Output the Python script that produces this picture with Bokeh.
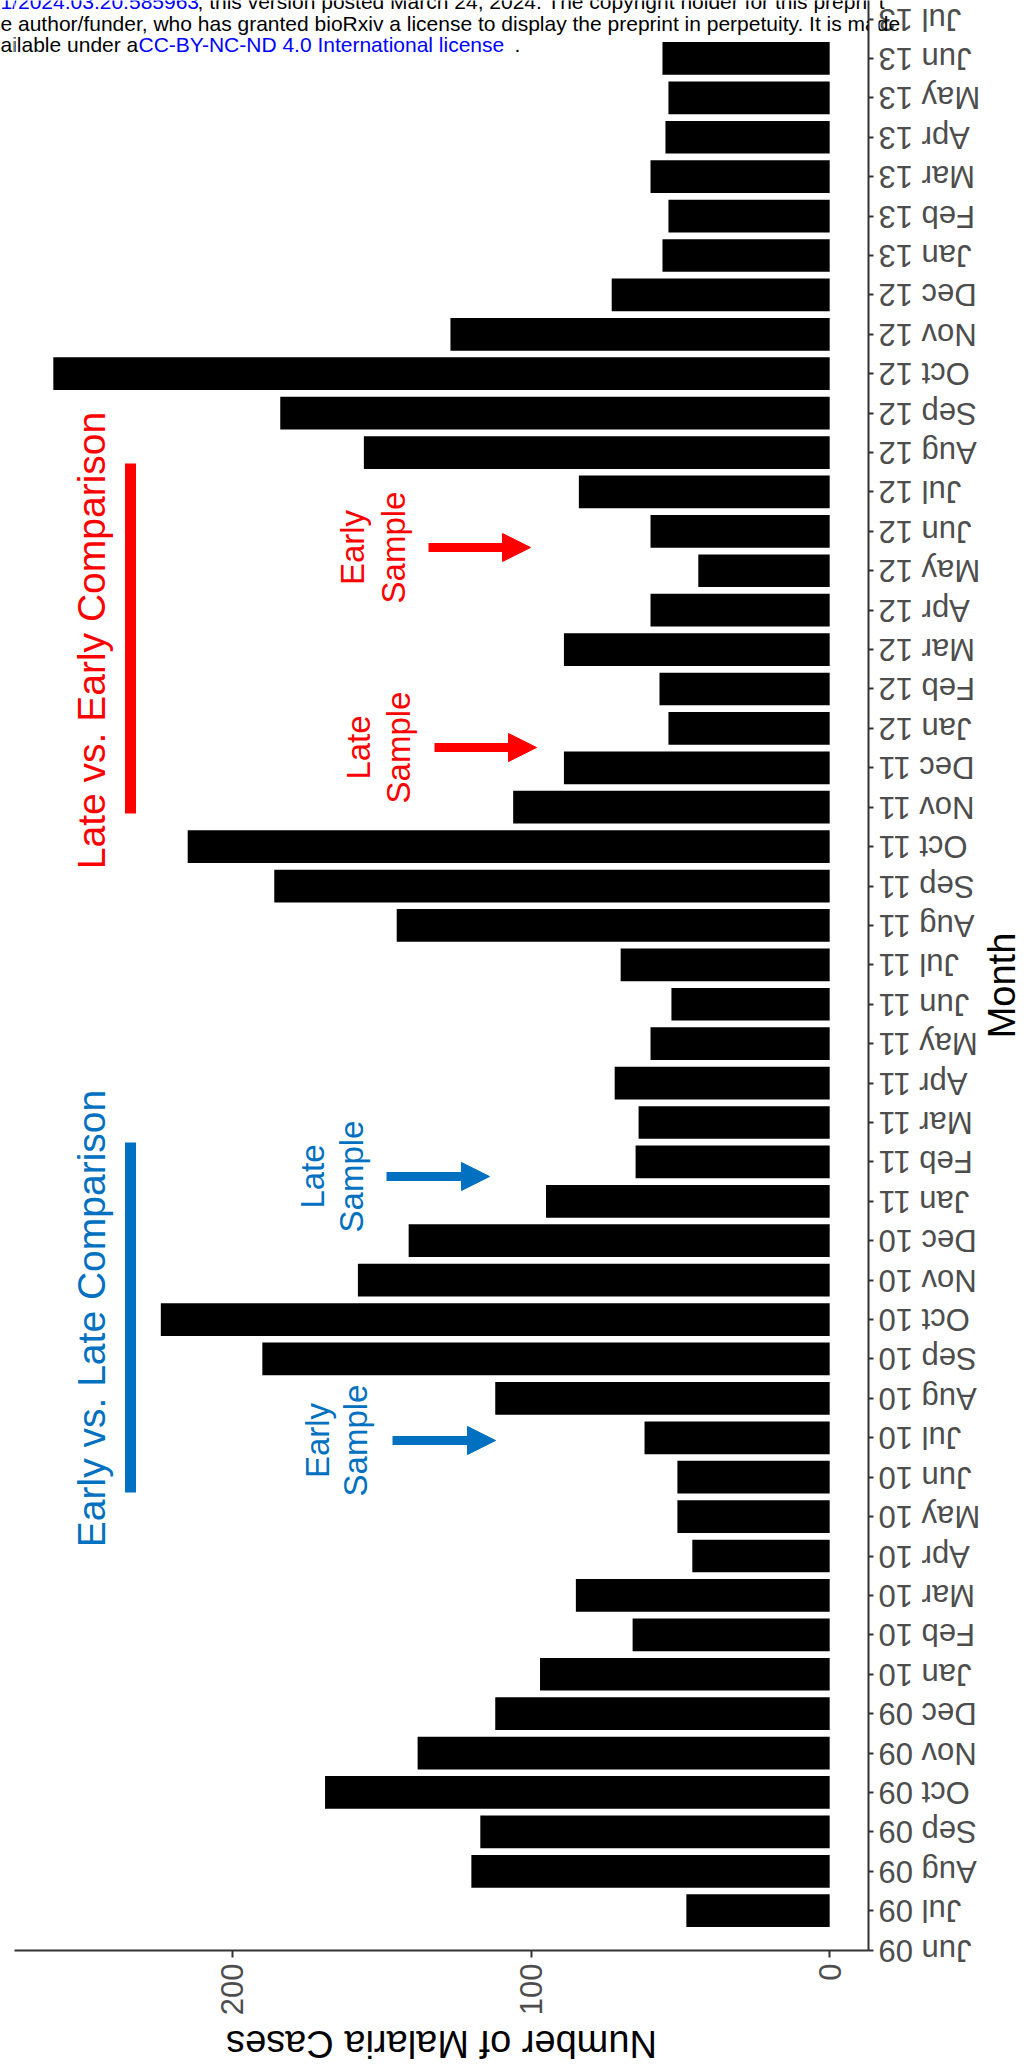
import math
from bokeh.plotting import figure
from bokeh.layouts import row, column
from bokeh.models import Range1d, FixedTicker, Label, Arrow, NormalHead, ColumnDataSource
from bokeh.core.properties import value
from bokeh.embed import file_html
from bokeh.resources import INLINE

# ---------------- data ----------------
MONTH_LABELS = [
    "Jun 09", "Jul 09", "Aug 09", "Sep 09", "Oct 09", "Nov 09", "Dec 09",
    "Jan 10", "Feb 10", "Mar 10", "Apr 10", "May 10", "Jun 10", "Jul 10", "Aug 10", "Sep 10", "Oct 10", "Nov 10", "Dec 10",
    "Jan 11", "Feb 11", "Mar 11", "Apr 11", "May 11", "Jun 11", "Jul 11", "Aug 11", "Sep 11", "Oct 11", "Nov 11", "Dec 11",
    "Jan 12", "Feb 12", "Mar 12", "Apr 12", "May 12", "Jun 12", "Jul 12", "Aug 12", "Sep 12", "Oct 12", "Nov 12", "Dec 12",
    "Jan 13", "Feb 13", "Mar 13", "Apr 13", "May 13", "Jun 13", "Jul 13",
]
BAR_MONTHS = MONTH_LABELS[1:49]
CASES = [
    48, 120, 117, 169, 138, 112,
    97, 66, 85, 46, 51, 51, 62, 112, 190, 224, 158, 141,
    95, 65, 64, 72, 60, 53, 70, 145, 186, 215, 106, 89,
    54, 57, 89, 60, 44, 60, 84, 156, 184, 260, 127, 73,
    56, 54, 60, 55, 54, 56,
]
VALUE_TICKS = [0, 100, 200]

# ---------------- styling / layout constants ----------------
FONT = "Liberation Sans"
RED = "#FF0000"
BLUE = "#0070C0"
LINK = "#0000FF"
AXIS_COL = "#333333"
TICK_TEXT = "#4D4D4D"

LEFT_W = 14                   # narrow strip left of the plotting frame
FRAME_W, FRAME_H = 854, 1950  # plotting frame of the main figure
RIGHT_BORDER = 10
XS, XE = 273.0, -13.0         # value range (reversed: bars grow to the left)
Y0, Y1 = -0.01, 49.47         # month-index range
PX_PER = FRAME_H / (Y1 - Y0)
BOTTOM_BORDER = 74
STRIP_X0 = LEFT_W + FRAME_W + RIGHT_BORDER      # page x of the right strip
RIGHT_W = 1029 - STRIP_X0
PB_H = 2070 - (FRAME_H + BOTTOM_BORDER)
BASE_SHIFT = 0.41             # label anchor correction (em) for alphabetic baseline


def v_at(px):   # value at a page x position (main figure)
    return XS - (px - LEFT_W) * (XS - XE) / FRAME_W


def i_at(py):   # month index at a page y position
    return Y1 - py / PX_PER


idx = {m: i for i, m in enumerate(MONTH_LABELS)}
src = ColumnDataSource(dict(y=[idx[m] for m in BAR_MONTHS], right=CASES, left=[0] * len(CASES)))
YR = Range1d(Y0, Y1)

# ---------------- main figure ----------------
p = figure(frame_width=FRAME_W, frame_height=FRAME_H, output_backend="svg", toolbar_location=None,
           x_range=Range1d(XS, XE), y_range=YR,
           y_axis_location="right", min_border_left=0, min_border_right=RIGHT_BORDER,
           min_border_top=0, min_border_bottom=BOTTOM_BORDER)
p.outline_line_color = None
p.xgrid.visible = False
p.ygrid.visible = False

p.hbar(y="y", left="left", right="right", height=0.83, source=src,
       fill_color="black", line_color=None)

for ax in (p.xaxis[0], p.yaxis[0]):
    ax.axis_line_color = AXIS_COL
    ax.axis_line_width = 2
    ax.major_tick_line_color = AXIS_COL
    ax.major_tick_line_width = 2
    ax.major_tick_in = 0
    ax.minor_tick_line_color = None
    ax.major_label_text_font = FONT

p.xaxis.ticker = FixedTicker(ticks=VALUE_TICKS)
p.xaxis.major_tick_out = 7
p.xaxis.major_label_standoff = 6
p.xaxis.major_label_orientation = math.pi / 2
p.xaxis.major_label_text_color = TICK_TEXT
p.xaxis.major_label_text_font_size = "31px"

# month ticks on the right axis; the upside-down labels are drawn in the strip at the right
p.yaxis.ticker = FixedTicker(ticks=list(range(len(MONTH_LABELS))))
p.yaxis.major_tick_out = 5
p.yaxis.major_label_standoff = 0
p.yaxis.major_label_text_font_size = "1px"
p.yaxis.major_label_text_color = None


def rot_label(fig, x_px, y, text, size, col, x0=None):
    """text reading bottom-to-top; x_px is the wanted baseline (page px)."""
    ax = x_px - BASE_SHIFT * size
    xx = v_at(ax) if x0 is None else ax - x0
    fig.add_layout(Label(x=xx, y=y, text=text, angle=math.pi / 2,
                         text_align="center", text_baseline="alphabetic",
                         text_font=FONT, text_font_size=f"{size}px", text_color=col))


# comparison annotations
COMPARISONS = [
    # title, color, title centre y, bar top y, bar bottom y   (page px)
    ("Late vs. Early Comparison", RED, 640, 463, 813),
    ("Early vs. Late Comparison", BLUE, 1318, 1142, 1492),
]
for title, col, ty, y0, y1 in COMPARISONS:
    rot_label(p, 107, i_at(ty), title, 39, col)
    p.segment(x0=[v_at(130)], y0=[i_at(y0)], x1=[v_at(130)], y1=[i_at(y1)],
              line_color=col, line_width=11, line_cap="butt")

SAMPLES = [
    # word, color, centre y, word baseline x, "Sample" baseline x, arrow tail x, arrow tip x (page px)
    ("Early", RED, 547, 366, 407, 428, 530),
    ("Late", RED, 747, 372, 412, 434, 536),
    ("Late", BLUE, 1176, 326, 365, 386, 489),
    ("Early", BLUE, 1440, 331, 369, 392, 495),
]
for word, col, yy, xw, xs, ax0, ax1 in SAMPLES:
    rot_label(p, xw, i_at(yy), word, 33, col)
    rot_label(p, xs, i_at(yy), "Sample", 33, col)
    p.add_layout(Arrow(end=NormalHead(size=28, fill_color=col, line_color=col, line_width=1),
                       x_start=v_at(ax0), y_start=i_at(yy), x_end=v_at(ax1), y_end=i_at(yy),
                       line_color=col, line_width=9))

# preprint watermark text at the top (text, colour, page x start, page baseline y)
WM_SIZE = 21
WATERMARK = [
    ("1/2024.03.20.585963", LINK, 0, 10),
    ("; this version posted March 24, 2024. The copyright holder for this preprint", "black", 197, 10),
    ("e author/funder, who has granted bioRxiv a license to display the preprint in perpetuity. It is made", "black", 0, 32),
    ("ailable under a", "black", 0, 53),
    ("CC-BY-NC-ND 4.0 International license", LINK, 138, 53),
    (".", "black", 514, 53),
]


def wm_label(fig, txt, col, x, py):
    fig.add_layout(Label(x=x, y=i_at(py - BASE_SHIFT * WM_SIZE), text=txt, text_align="left",
                         text_baseline="alphabetic", text_font=FONT,
                         text_font_size=f"{WM_SIZE}px", text_color=col))


for txt, col, px, py in WATERMARK:
    wm_label(p, txt, col, v_at(px), py)

# ---------------- left strip (start of the cut-off watermark lines) ----------------
pl = figure(frame_width=LEFT_W, frame_height=FRAME_H, output_backend="svg", toolbar_location=None,
            x_axis_location=None, y_axis_location=None, x_range=Range1d(0, LEFT_W), y_range=YR,
            min_border_left=0, min_border_right=0, min_border_top=0, min_border_bottom=BOTTOM_BORDER)
pl.outline_line_color = None
pl.grid.visible = False
for txt, col, px, py in WATERMARK:
    if px < LEFT_W:
        wm_label(pl, txt, col, px, py)

# ---------------- right strip: month tick labels + axis title ----------------
EXTRA = 40                             # strip frame extends lower so "Jun 09" is not cut
pr = figure(frame_width=RIGHT_W, frame_height=FRAME_H + EXTRA, output_backend="svg",
            toolbar_location=None, x_axis_location=None, y_axis_location=None,
            x_range=Range1d(0, RIGHT_W), y_range=Range1d(Y0 - EXTRA / PX_PER, Y1),
            min_border_left=0, min_border_right=0, min_border_top=0,
            min_border_bottom=BOTTOM_BORDER - EXTRA)
pr.outline_line_color = None
pr.grid.visible = False
pr.text(x=[0] * len(MONTH_LABELS), y=list(range(len(MONTH_LABELS))), text=MONTH_LABELS,
        angle=math.pi, text_align="right", text_baseline="middle",
        text_font=value(FONT), text_font_size="31px", text_color=TICK_TEXT)
rot_label(pr, 1017, i_at(985), "Month", 38, "black", x0=STRIP_X0)
for txt, col, px, py in WATERMARK[1:3]:
    wm_label(pr, txt, col, px - STRIP_X0, py)

# ---------------- bottom strip: value-axis title (upside down) ----------------
PB_TOP = FRAME_H + BOTTOM_BORDER
pb = figure(frame_width=FRAME_W + RIGHT_BORDER, frame_height=PB_H, output_backend="svg",
            toolbar_location=None, x_axis_location=None, y_axis_location=None,
            x_range=Range1d(0, FRAME_W + RIGHT_BORDER), y_range=Range1d(0, PB_H),
            min_border_left=0, min_border_right=0, min_border_top=0, min_border_bottom=0)
pb.outline_line_color = None
pb.grid.visible = False
title_baseline = 2028 + BASE_SHIFT * 38
pb.add_layout(Label(x=FRAME_W / 2, y=PB_H - (title_baseline - PB_TOP),
                    text="Number of Malaria Cases", angle=math.pi,
                    text_align="center", text_baseline="alphabetic",
                    text_font=FONT, text_font_size="38px", text_color="black"))

layout = row(pl, column(p, pb), pr)
open("out.html", "w").write(file_html(layout, INLINE))
